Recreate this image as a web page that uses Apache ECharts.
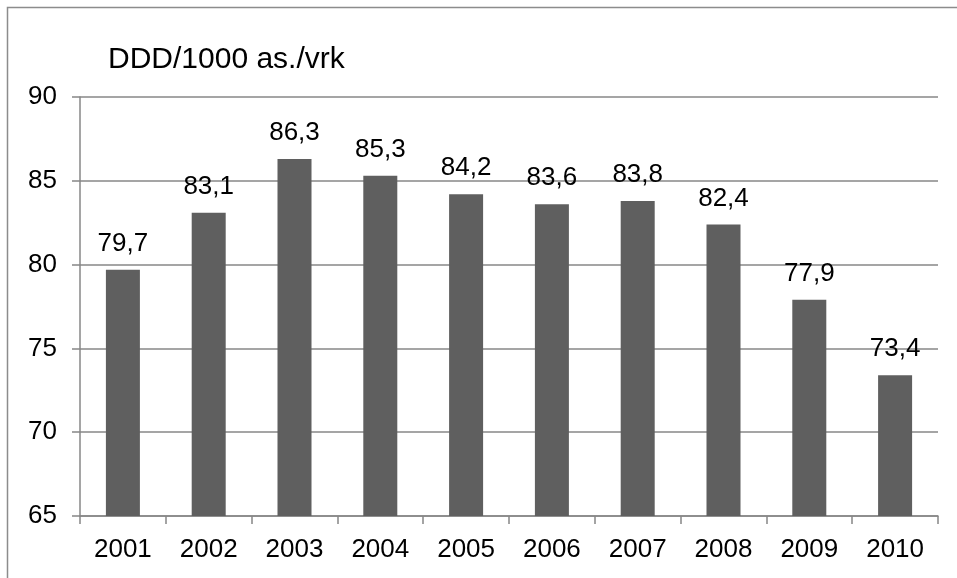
<!DOCTYPE html>
<html>
<head>
<meta charset="utf-8">
<script src="https://cdn.jsdelivr.net/npm/echarts@6/dist/echarts.min.js"></script>
<style>
  html, body { margin: 0; padding: 0; background: #fff; }
  #main { width: 957px; height: 578px; }
</style>
</head>
<body>
<div id="main"></div>
<script>
var years = ['2001', '2002', '2003', '2004', '2005', '2006', '2007', '2008', '2009', '2010'];
var values = [79.7, 83.1, 86.3, 85.3, 84.2, 83.6, 83.8, 82.4, 77.9, 73.4];
var unitLabel = 'DDD/1000 as./vrk';

var myChart = echarts.init(document.getElementById('main'));
var font = 'Liberation Sans, Arial, sans-serif';
var option = {
    animation: false,
    backgroundColor: '#fff',
    textStyle: { fontFamily: font },
    graphic: [
        {   // frame around the chart (cut at right/bottom)
            type: 'rect',
            shape: { x: 7.5, y: 7.5, width: 1200, height: 1200 },
            style: { fill: null, stroke: '#8c8c8c', lineWidth: 1.5 },
            silent: true
        },
        {
            type: 'text',
            left: 108, top: 45,
            style: { text: unitLabel, fontSize: 30, fill: '#000', fontFamily: font }
        }
    ],
    grid: { left: 80, top: 97, right: 19, bottom: 62, containLabel: false },
    xAxis: {
        type: 'category',
        data: years,
        axisLine: { lineStyle: { color: '#878787', width: 1.5 } },
        axisTick: { show: true, length: 8, alignWithLabel: false, lineStyle: { color: '#878787', width: 1.5 } },
        axisLabel: { color: '#000', fontSize: 26, margin: 21, fontFamily: font }
    },
    yAxis: {
        type: 'value',
        min: 65, max: 90, interval: 5,
        axisLine: { show: true, lineStyle: { color: '#878787', width: 1.5 } },
        axisTick: { show: true, length: 8, lineStyle: { color: '#878787', width: 1.5 } },
        axisLabel: { color: '#000', fontSize: 26, margin: 23, fontFamily: font },
        splitLine: { show: true, lineStyle: { color: '#878787', width: 1.5 } }
    },
    series: [{
        type: 'bar',
        data: values,
        barWidth: 34,
        itemStyle: { color: '#5f5f5f' },
        label: {
            show: true,
            position: 'top',
            distance: 13,
            color: '#000',
            fontSize: 26,
            fontFamily: font,
            formatter: function (p) { return p.value.toFixed(1).replace('.', ','); }
        }
    }]
};
myChart.setOption(option);
</script>
</body>
</html>
